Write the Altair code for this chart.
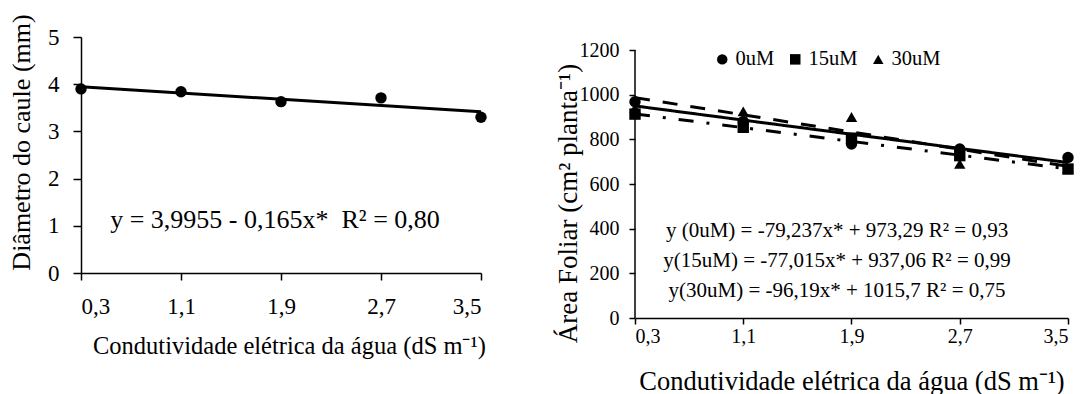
import altair as alt
import pandas as pd

# ---- data ----
ec = [0.3, 1.1, 1.9, 2.7, 3.5]
diam = [3.90, 3.84, 3.63, 3.71, 3.30]
trend_x = [0.3, 3.5]
diam_trend = [3.946, 3.418]

series = ["0uM", "15uM", "30uM"]
area_0 = [968, 880, 779, 757, 719]
area_15 = [913, 854, 805, 727, 667]
area_30 = [940, 925, 900, 690, 670]
trend_0 = [949.5, 696.0]
trend_15 = [913.9, 667.5]
trend_30 = [986.8, 679.0]

left_eq = ["y = 3,9955 - 0,165x*\u00a0 R² = 0,80"]
right_eqs = ["y (0uM) = -79,237x* + 973,29 R² = 0,93",
             "y(15uM) = -77,015x* + 937,06 R² = 0,99",
             "y(30uM) = -96,19x* + 1015,7 R² = 0,75"]

FONT = "Liberation Serif"
label_expr = "replace(format(datum.value, '.1f'), '.', ',')"

# ---- left panel ----
dl = pd.DataFrame({"ec": ec, "d": diam})
dlt = pd.DataFrame({"ec": trend_x, "d": diam_trend})

xl = alt.X("ec:Q", scale=alt.Scale(domain=[0.3, 3.5], nice=False, zero=False),
           axis=alt.Axis(values=ec, labelExpr=label_expr, title="Condutividade elétrica da água (dS m⁻¹)",
                         labelFontSize=23, titleFontSize=24.5, labelPadding=15, tickSize=7, titlePadding=16,
                         titleX=208))
yl = alt.Y("d:Q", scale=alt.Scale(domain=[0, 5], nice=False),
           axis=alt.Axis(values=[0, 1, 2, 3, 4, 5], title="Diâmetro do caule (mm)",
                         labelFontSize=23, titleFontSize=26, labelPadding=14, tickSize=8, titlePadding=13,
                         titleY=105))

left_line = alt.Chart(dlt).mark_line(color="black", strokeWidth=3).encode(x=xl, y=yl)
left_pts = alt.Chart(dl).mark_point(filled=True, shape="circle", size=130, color="black", opacity=1).encode(x=xl, y=yl)
left_txt = alt.Chart(pd.DataFrame({"t": left_eq})).mark_text(
    font=FONT, fontSize=26, align="center", baseline="middle", color="black"
).encode(x=alt.value(194), y=alt.value(183), text="t:N")
left = alt.layer(left_line, left_pts, left_txt).properties(width=400, height=236)

# ---- right panel ----
rows = []
for s, vals in zip(series, [area_0, area_15, area_30]):
    for e, v in zip(ec, vals):
        rows.append({"ec": e, "a": v, "s": s})
dr = pd.DataFrame(rows)
trows = []
for s, vals in zip(series, [trend_0, trend_15, trend_30]):
    for e, v in zip(trend_x, vals):
        trows.append({"ec": e, "a": v, "trend": s})
drt = pd.DataFrame(trows)

# plot area is 13 px taller than the 0-1200 range so that it sits lower than the left panel
Y_TOP = 1200 + 13 / (268 / 1200)
xr = alt.X("ec:Q", scale=alt.Scale(domain=[0.3, 3.5], nice=False, zero=False),
           axis=alt.Axis(values=ec, labelExpr=label_expr, title="Condutividade elétrica da água (dS m⁻¹)",
                         labelFontSize=20, titleFontSize=26.5, labelPadding=2, tickSize=6, titlePadding=22))
yr = alt.Y("a:Q", scale=alt.Scale(domain=[0, Y_TOP], nice=False),
           axis=alt.Axis(values=[0, 200, 400, 600, 800, 1000, 1200], format="d", title="Área Foliar (cm² planta⁻¹)",
                         labelFontSize=20, titleFontSize=27, labelPadding=10, tickSize=6, titlePadding=-3,
                         domain=False, titleY=166))

right_lines = alt.Chart(drt).mark_line(color="black", strokeWidth=3).encode(
    x=xr, y=yr,
    strokeDash=alt.StrokeDash("trend:N", scale=alt.Scale(domain=series, range=[[1, 0], [15, 13, 3, 13], [15, 13]]), legend=None),
    detail="trend:N",
)
right_pts = alt.Chart(dr).mark_point(filled=True, size=130, color="black", opacity=1).encode(
    x=xr, y=yr,
    shape=alt.Shape("s:N", scale=alt.Scale(domain=series, range=["circle", "square", "triangle-up"]),
                    legend=alt.Legend(orient="none", legendX=77, legendY=12, direction="horizontal", title=None,
                                      labelFont=FONT, labelFontSize=20.5, labelColor="black",
                                      symbolFillColor="black", symbolStrokeColor="black", symbolSize=110,
                                      columnPadding=10, labelOffset=3)),
)
eq_layers = [
    alt.Chart(pd.DataFrame({"t": [t]})).mark_text(
        font=FONT, fontSize=21, align="center", baseline="middle", color="black"
    ).encode(x=alt.value(202), y=alt.value(yy), text="t:N")
    for t, yy in zip(right_eqs, [194, 224, 254])
]
y_axis_line = alt.Chart(pd.DataFrame({"k": [0]})).mark_rule(color="black", strokeWidth=1.5).encode(
    x=alt.value(0), y=alt.datum(0), y2=alt.datum(1200))
right = alt.layer(right_lines, right_pts, *eq_layers, y_axis_line).properties(width=433, height=281)

chart = alt.hconcat(left, right, spacing=67).resolve_scale(shape="independent").resolve_legend(
    shape="independent"
).properties(
    padding={"left": 0, "top": 5, "right": 0, "bottom": 0}
).configure(font=FONT).configure_axis(
    grid=False, domainColor="black", tickColor="black", labelColor="black", titleColor="black",
    domainWidth=1.5, tickWidth=1.5, labelFont=FONT, titleFont=FONT, titleFontWeight="normal"
).configure_view(stroke=None)

chart.save("out.html", embed_options={"renderer": "svg", "actions": False})
